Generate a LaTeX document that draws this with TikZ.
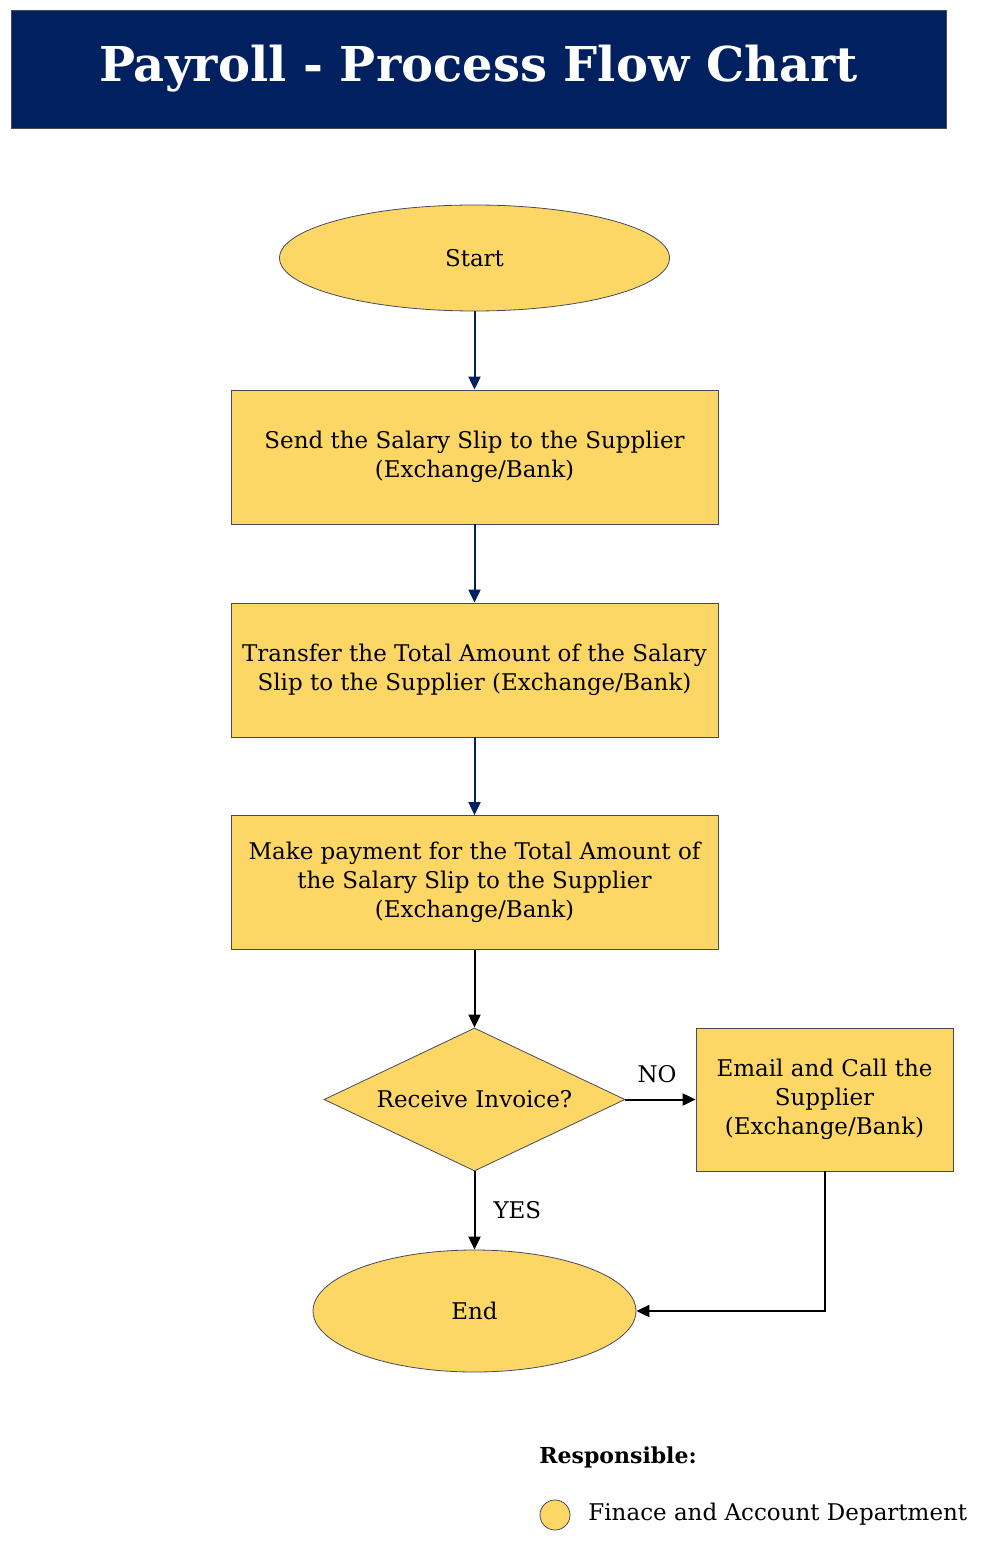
\documentclass[tikz,border=0pt]{standalone}
\usepackage{fontspec}
\setmainfont{DejaVu Serif}
\usetikzlibrary{shapes.geometric,arrows.meta}
\definecolor{navy}{RGB}{0,32,96}
\definecolor{gold}{RGB}{253,215,102}
\definecolor{rim}{RGB}{70,74,90}
\tikzset{every node/.style={font=\fontsize{11.5}{14.5}\selectfont, align=center, inner sep=0pt},
  proc/.style={draw=rim, fill=gold, line width=0.4pt, minimum width=243.5pt, minimum height=67pt},
  term/.style={ellipse, draw=rim, fill=gold, line width=0.4pt},
  flow/.style={navy, line width=1pt, -{Triangle[length=6.5pt,width=6pt]}},
  link/.style={black, line width=1pt, -{Triangle[length=6.5pt,width=6pt]}}}

\begin{document}
\begin{tikzpicture}[x=0.5pt,y=-0.5pt]
  \useasboundingbox (0,0) rectangle (989,1550);
  \node[fill=navy, draw=rim, minimum width=467.5pt, minimum height=59pt,
        font=\fontsize{24}{24}\selectfont\bfseries, text=white] (title) at (478.5,69) {Payroll - Process Flow Chart};

  \node[term, minimum width=195pt, minimum height=53pt] (a) at (474.5,258) {Start};
  \node[proc] (b) at (474.5,457) {Send the Salary Slip to the Supplier\\(Exchange/Bank)};
  \node[proc] (c) at (474.5,670) {Transfer the Total Amount of the Salary\\Slip to the Supplier (Exchange/Bank)};
  \node[proc] (d) at (474.5,882.5) {Make payment for the Total Amount of\\the Salary Slip to the Supplier\\(Exchange/Bank)};
  \node[diamond, aspect=2.1, draw=rim, fill=gold, line width=0.4pt, minimum width=150.5pt, minimum height=71.5pt] (e) at (474.5,1099.5) {Receive Invoice?};
  \node[proc, minimum width=128.5pt, minimum height=71.5pt] (f) at (824.5,1099.5) {Email and Call the\\Supplier\\(Exchange/Bank)};
  \node[term, minimum width=161.5pt, minimum height=61pt] (g) at (474.5,1311) {End};

  \draw[flow] (a) -- (b);
  \draw[flow] (b) -- (c);
  \draw[flow] (c) -- (d);
  \draw[link] (d) -- (e);
  \draw[link] (e) -- node[above=8pt, pos=0.45] (no) {NO} (f);
  \draw[link] (e) -- node[right=9pt, pos=0.5] (yes) {YES} (g);
  \draw[link] (f) |- (g);

  \node[anchor=west, font=\fontsize{11}{11}\selectfont\bfseries] (resp) at (539,1457) {Responsible:};
  \node[circle, draw=rim, fill=gold, line width=0.4pt, minimum size=15pt] (dot) at (555,1515) {};
  \node[anchor=west, font=\fontsize{11.5}{11.5}\selectfont] (dept) at (588,1514) {Finace and Account Department};
\end{tikzpicture}
\end{document}
